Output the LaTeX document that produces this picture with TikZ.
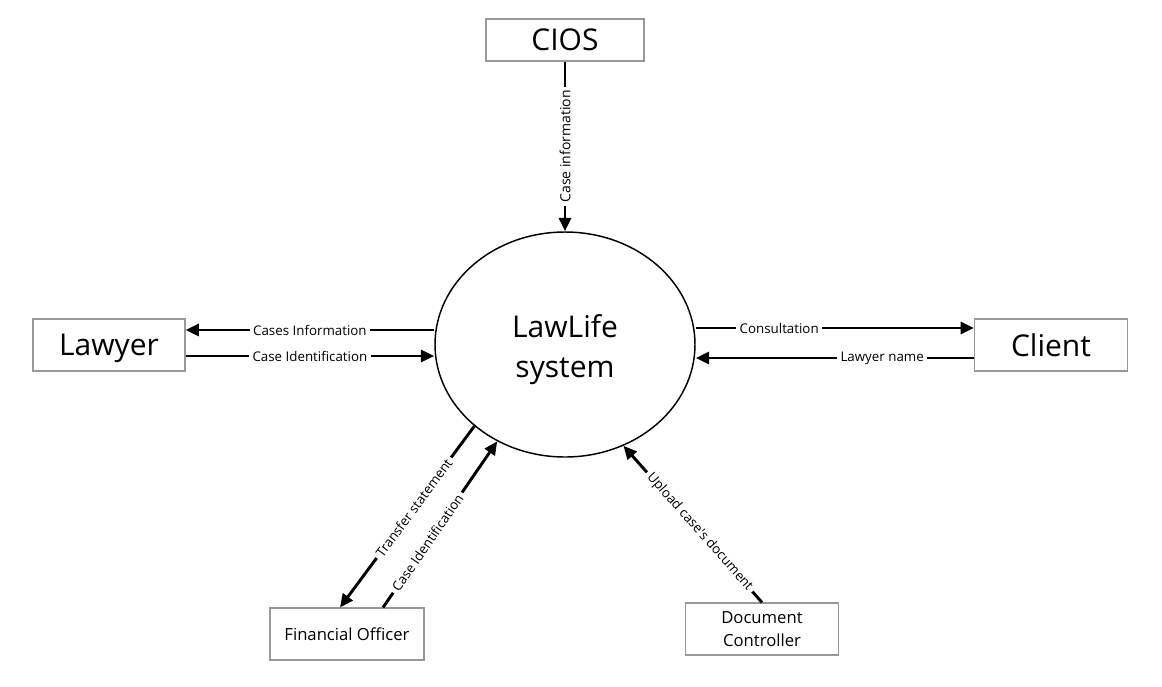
\documentclass[tikz,border=0pt]{standalone}
\usepackage{fontspec}
\setmainfont{Open Sans}
\usepackage{tikz}
\usetikzlibrary{shapes.geometric,arrows.meta}

\begin{document}
\begin{tikzpicture}[
			x=0.75pt, y=-0.75pt,
			entity/.style={draw=black!40, line width=0.8pt, fill=white, align=center, inner sep=0pt},
			big/.style={font=\fontsize{22.5}{27}\selectfont, text depth=0pt},
			small/.style={font=\fontsize{12.5}{17}\selectfont},
			flow/.style={draw, line width=2.2pt, -{Triangle[length=10pt,width=9pt]}},
			lbl/.style={fill=white, font=\fontsize{10}{12}\selectfont, inner sep=2.5pt}
			]
			\useasboundingbox (0,0) rectangle (1162,686);
			
			% the system and the outside entities
			\node[draw, ellipse, line width=1.1pt, minimum width=195pt, minimum height=168.75pt,
				inner sep=0pt, align=center, font=\fontsize{22.5}{30}\selectfont] (sys) at (565,344.5) {\rule{0pt}{24.5pt}LawLife\\system};
			\node[entity, big, minimum width=118.5pt, minimum height=31.5pt] (cios) at (565,40) {CIOS};
			\node[entity, big, minimum width=114pt, minimum height=39pt] (lawyer) at (109,345) {Lawyer};
			\node[entity, big, minimum width=114.75pt, minimum height=39pt] (client) at (1051,345) {Client};
			\node[entity, small, minimum width=115.5pt, minimum height=39pt] (fo) at (347,634) {Financial Officer};
			\node[entity, small, minimum width=114.75pt, minimum height=39pt] (dc) at (762,629) {Document\\Controller};
			
			% data flows
			\draw[flow] (cios) -- node[lbl, rotate=90, font=\fontsize{10.5}{12}\selectfont] {Case information} (sys);
			\draw[flow] (sys.west |- 0,330) -- node[lbl] {Cases Information} (lawyer.east |- 0,330);
			\draw[flow] (lawyer.east |- 0,356) -- node[lbl] {Case Identification} (sys.west |- 0,356);
			\draw[flow] (sys.east |- 0,328) -- node[lbl, pos=0.3] {Consultation} (client.west |- 0,328);
			\draw[flow] (client.west |- 0,358) -- node[lbl, pos=0.33] {Lawyer name} (sys.east |- 0,358);
			\draw[flow] (sys.222) -- node[lbl, sloped, pos=0.45] {Transfer statement} (fo.north -| 340,0);
			\draw[flow] (fo.north -| 383,0) -- node[lbl, sloped, pos=0.39] {Case Identification} (sys.235);
			\draw[flow] (dc.north) -- node[lbl, sloped, pos=0.45] {Upload case\textquotesingle s document} (sys.300);
		\end{tikzpicture}
\end{document}
